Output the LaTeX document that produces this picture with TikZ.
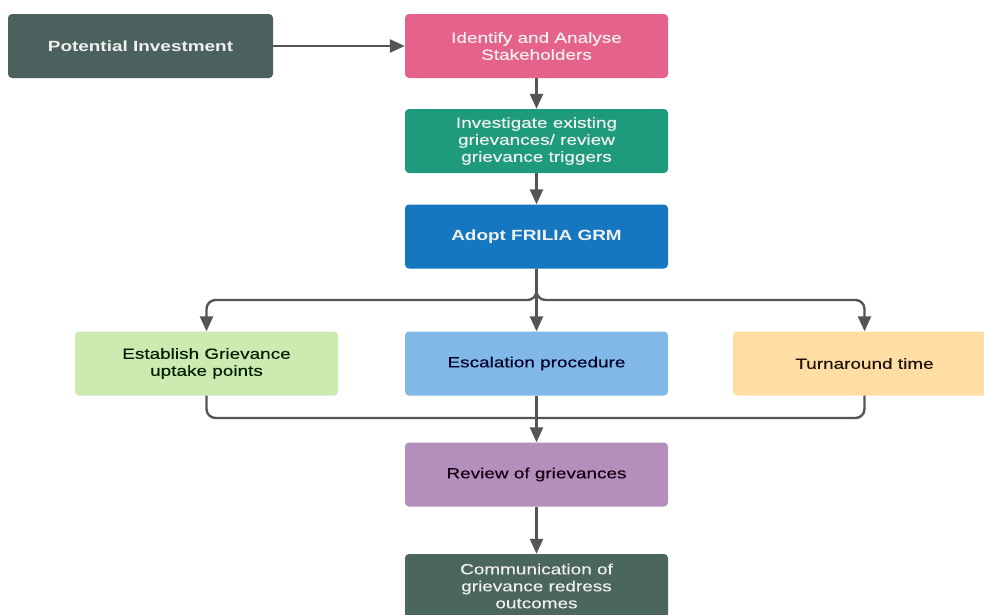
\documentclass[tikz,border=0pt]{standalone}
\usepackage{fontspec}
\newfontfamily\diagfont[FakeStretch=1.28,FakeBold=0.3]{Liberation Sans}
\newfontfamily\diagbold[FakeStretch=1.28]{Liberation Sans Bold}
\usetikzlibrary{arrows.meta}
\definecolor{slate}{HTML}{4B615D}
\definecolor{slatecomm}{HTML}{4A665F}
\definecolor{rose}{HTML}{E5628A}
\definecolor{teal}{HTML}{1E9B7C}
\definecolor{adoptblue}{HTML}{1577BF}
\definecolor{mint}{HTML}{CDEAB0}
\definecolor{sky}{HTML}{80B9E7}
\definecolor{peach}{HTML}{FFDDA3}
\definecolor{mauve}{HTML}{B48FBB}
\definecolor{connector}{HTML}{555555}
\tikzset{
  box/.style={rectangle, rounded corners=4pt, minimum width=263pt, minimum height=64pt,
    align=center, inner sep=2pt,
    font=\diagfont\fontsize{14.8}{17}\selectfont},
  boldtext/.style={font=\diagbold\fontsize{14.8}{17}\selectfont},
  darkbox/.style={box, text=white!94!black},
  lightbox/.style={box},
  flow/.style={draw=connector, line width=2.4pt, rounded corners=9pt,
    -{Triangle[length=15pt,width=13pt]}},
  mergeline/.style={draw=connector, line width=2.4pt, rounded corners=9pt}
}
\begin{document}
\begin{tikzpicture}[x=1pt,y=-1pt]
\clip (0,0) rectangle (984,614);
\fill[white] (0,0) rectangle (984,614);

% upper chain
\node[darkbox, fill=slate, minimum width=265pt, boldtext] (invest) at (140.5,46) {Potential Investment};
\node[darkbox, fill=rose] (ident) at (536.5,46) {Identify and Analyse\\Stakeholders};
\node[darkbox, fill=teal] (investig) at (536.5,141) {Investigate existing\\grievances/ review\\grievance triggers};
\node[darkbox, fill=adoptblue, boldtext] (adopt) at (536.5,236.5) {Adopt FRILIA GRM};

% three parallel components
\node[lightbox, fill=mint, text=black!80!green!60!black] (uptake) at (206.5,363.5) {Establish Grievance\\uptake points};
\node[lightbox, fill=sky, text=black!85!blue] (escal) at (536.5,363.5) {Escalation procedure};
\node[lightbox, fill=peach, text=black!85!brown] (turn) at (864.5,363.5) {Turnaround time};

% review and outcome
\node[lightbox, fill=mauve, text=black!85!violet] (review) at (536.5,474.5) {Review of grievances};
\node[darkbox, fill=slatecomm] (comm) at (536.5,586) {Communication of\\grievance redress\\outcomes};

% branch and merge points
\coordinate (split) at (536.5,300);
\coordinate (merge) at (536.5,418);

% connectors
\draw[flow] (invest) -- (ident);
\draw[flow] (ident) -- (investig);
\draw[flow] (investig) -- (adopt);
\draw[flow] (adopt.south) -- (split) -| (uptake.north);
\draw[flow] (adopt.south) -- (escal.north);
\draw[flow] (adopt.south) -- (split) -| (turn.north);
\draw[mergeline] (uptake.south) |- (merge);
\draw[mergeline] (turn.south) |- (merge);
\draw[flow] (escal.south) -- (review.north);
\draw[flow] (review) -- (comm);
\end{tikzpicture}
\end{document}
